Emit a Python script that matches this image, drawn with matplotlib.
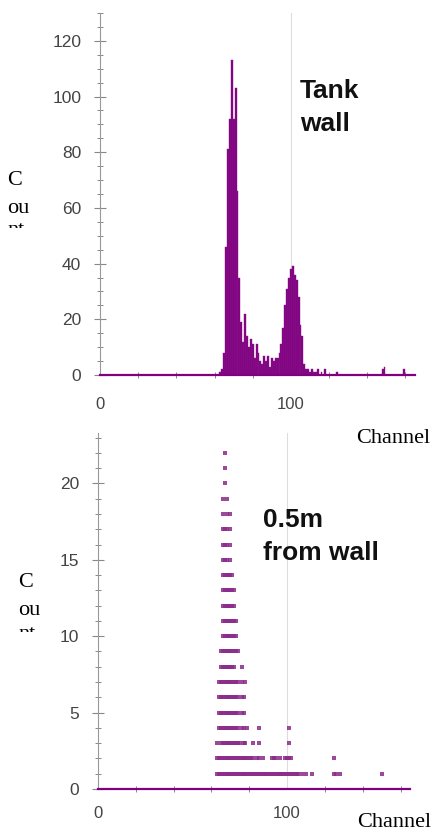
import numpy as np
import matplotlib.pyplot as plt
from matplotlib.ticker import MultipleLocator, FixedLocator
from matplotlib.transforms import Bbox

# top panel: histogram, tank wall
hist_channels = [63, 64, 65, 66, 67, 68, 69, 70, 71, 72, 73, 74, 75, 76, 77, 78, 79, 80,
                 81, 82, 83, 84, 85, 86, 87, 88, 89, 90, 91, 92, 93, 94, 95, 96, 97, 98,
                 99, 100, 101, 102, 103, 104, 105, 106, 107, 108, 109, 110, 111, 112, 113,
                 114, 116, 118, 124, 148, 149, 159]
hist_counts = [1, 2, 8, 46, 81, 92, 113, 92, 103, 66, 35, 19, 12, 22, 14, 10, 13, 11,
               6, 11, 8, 5, 4, 7, 5, 7, 3, 6, 5, 6, 6, 8, 11, 17, 25, 31,
               35, 38, 39, 36, 34, 28, 18, 14, 4, 2, 2, 1, 2, 1, 1,
               2, 1, 2, 1, 2, 3, 2]

# bottom panel: 0.5 m from wall, channels with a dot at each count level
dot_levels = list(range(1, 23))
dot_channels = [
    [63, 64, 65, 66, 67, 68, 69, 70, 71, 72, 73, 74, 75, 76, 77, 78, 79, 80, 81, 82, 83,
     84, 85, 86, 87, 88, 89, 90, 91, 92, 93, 94, 95, 96, 97, 98, 99, 100, 101, 102, 103,
     104, 105, 106, 108, 110, 113, 125, 126, 128, 150],
    [63, 64, 65, 66, 67, 68, 69, 70, 71, 72, 73, 74, 75, 76, 77, 78, 79, 80, 81, 82, 84,
     85, 87, 92, 93, 94, 96, 99, 100, 101, 102, 125],
    [63, 65, 66, 67, 68, 69, 70, 71, 72, 73, 74, 75, 77, 78, 82, 85, 101],
    [64, 65, 66, 67, 68, 69, 70, 71, 72, 73, 74, 76, 77, 79, 85, 101],
    [64, 65, 66, 67, 68, 69, 70, 71, 72, 73, 74, 76, 77],
    [64, 65, 66, 67, 68, 69, 70, 71, 72, 73, 74, 76, 77],
    [64, 65, 66, 67, 68, 69, 70, 71, 72, 73, 74, 76, 78],
    [65, 66, 67, 68, 69, 70, 71, 72, 76],
    [65, 66, 67, 68, 69, 70, 71, 72, 73, 74],
    [66, 67, 68, 69, 70, 71, 72, 73],
    [66, 67, 68, 69, 70, 71, 72, 73],
    [66, 67, 68, 69, 70, 71, 72],
    [66, 67, 68, 69, 70, 71, 72],
    [66, 67, 68, 69, 70, 71],
    [66, 67, 68, 70],
    [66, 67, 68, 70],
    [66, 67, 68, 70],
    [66, 68, 70],
    [66, 68],
    [67],
    [67],
    [67],
]

purple = '#800080'
W, H = 438, 833
fig = plt.figure(figsize=(W / 100, H / 100), dpi=100)


def px_axes(x0, y_top, x1, y_bot):
    return fig.add_axes([x0 / W, 1 - y_bot / H, (x1 - x0) / W, (y_bot - y_top) / H])


def style(ax, ymax, ymajor, yminor, xpad):
    ax.set_xlim(0, 165)
    ax.set_ylim(0, ymax)
    for s in ['top', 'right']:
        ax.spines[s].set_visible(False)
    ax.spines['left'].set_color('#999999')
    ax.spines['bottom'].set_color(purple)
    ax.spines['bottom'].set_linewidth(1.6)
    ax.axvline(100, color='#dddddd', lw=0.8, zorder=0)
    ax.yaxis.set_major_locator(MultipleLocator(ymajor))
    ax.yaxis.set_minor_locator(MultipleLocator(yminor))
    ax.xaxis.set_major_locator(FixedLocator([0, 100]))
    ax.xaxis.set_minor_locator(FixedLocator([20, 40, 60, 80, 120, 140, 160]))
    ax.tick_params(axis='y', which='major', direction='inout', length=9, width=0.8,
                   color='#888888', labelcolor='#444444', labelsize=12.5, pad=9)
    ax.tick_params(axis='y', which='minor', direction='inout', length=5, width=0.7,
                   color='#888888')
    ax.tick_params(axis='x', which='major', direction='inout', length=0,
                   labelcolor='#444444', labelsize=12, pad=xpad)
    ax.tick_params(axis='x', which='minor', direction='inout', length=5, width=0.7,
                   color='#888888')
    for lab in ax.get_xticklabels() + ax.get_yticklabels():
        lab.set_family('Liberation Sans')


ax1 = px_axes(100, 13, 415, 375)
ax1.bar(hist_channels, hist_counts, width=1.0, color=purple, edgecolor='#8c1a8c',
        linewidth=0.3, zorder=2)
style(ax1, 130, 20, 5, 16)

ax2 = px_axes(98, 433, 410, 789)
xs, ys = [], []
for lvl, chans in zip(dot_levels, dot_channels):
    xs.extend(chans)
    ys.extend([lvl] * len(chans))
ax2.scatter(xs, ys, s=7, marker='s', color='#8a2a8a', linewidths=0, alpha=0.85, zorder=2,
            clip_on=False)
style(ax2, 23.3, 5, 1, 12)

# annotations
bold = dict(family='Liberation Sans', fontweight='bold', fontsize=19, color='#111111')
fig.text(300 / W, 1 - 98 / H, 'Tank', **bold)
fig.text(300 / W, 1 - 131 / H, 'wall', **bold)
fig.text(263 / W, 1 - 527 / H, '0.5m', **bold)
fig.text(263 / W, 1 - 560 / H, 'from wall', **bold)

serif = dict(family='Liberation Serif', fontsize=16, color='black')
fig.text(356 / W, 1 - 443 / H, 'Channel', **serif)
fig.text(357 / W, 1 - 827 / H, 'Channel', **serif)

# clipped "Count" labels
for x, y0, clip, gap in [(7, 185, 228, 50), (18, 587, 632, 52)]:
    fig.text(x / W, 1 - y0 / H, 'C', **serif)
    fig.text(x / W, 1 - (y0 + 28) / H, 'ou', **serif)
    t = fig.text(x / W, 1 - (y0 + gap) / H, 'nt', **serif)
    t.set_clip_box(Bbox.from_extents(0, H - clip, 80, H))
    t.set_clip_on(True)

fig.savefig('out.png', dpi=100)
